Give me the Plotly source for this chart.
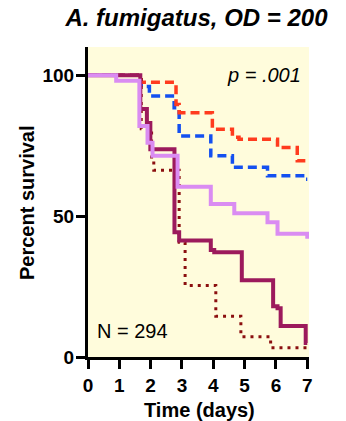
import plotly.graph_objects as go

# Kaplan-Meier step data (days, percent survival)
red_t = [0, 1.70, 2.81, 2.91, 3.97, 4.61, 4.82, 6.05, 6.68, 7.0]
red_s = [100, 97.5, 89.6, 86.7, 80.8, 78.0, 77.3, 74.3, 69.6, 69.6]

blue_t = [0, 1.70, 1.96, 2.75, 2.91, 3.92, 4.61, 5.73, 6.95, 7.0]
blue_s = [100, 96.0, 92.6, 88.4, 78.4, 71.4, 67.3, 64.3, 63.1, 63.1]

maroon_t = [0, 1.67, 1.88, 1.99, 2.76, 2.91, 3.92, 4.03, 4.91, 5.91, 6.05, 6.15, 6.95, 7.0]
maroon_s = [100, 88.0, 83.0, 73.7, 44.3, 41.3, 38.0, 37.2, 27.2, 18.0, 17.3, 11.0, 5.0, 5.0]

violet_t = [0, 0.90, 1.64, 1.90, 2.06, 2.86, 3.92, 4.67, 5.73, 6.05, 7.0]
violet_s = [100, 98.0, 82.0, 76.0, 71.4, 60.4, 54.3, 51.0, 47.8, 43.7, 42.0]

dot_t = [0, 1.70, 2.03, 2.10, 2.91, 3.10, 4.08, 4.88, 5.83, 7.0]
dot_s = [100, 81.0, 70.0, 66.3, 40.7, 25.4, 14.5, 7.2, 3.3, 3.3]

x_ticks = [0, 1, 2, 3, 4, 5, 6, 7]
y_ticks = [0, 50, 100]

FONT = "Liberation Sans, Arial, sans-serif"

fig = go.Figure()
fig.add_trace(go.Scatter(x=blue_t, y=blue_s, mode="lines", line_shape="hv",
                         line=dict(color="#1450F0", width=3.5, dash="9px,5px")))
fig.add_trace(go.Scatter(x=red_t, y=red_s, mode="lines", line_shape="hv",
                         line=dict(color="#FF3B1E", width=3.5, dash="9px,5px")))
fig.add_trace(go.Scatter(x=dot_t, y=dot_s, mode="lines", line_shape="hv",
                         line=dict(color="#8B0F0F", width=3, dash="3px,5px")))
fig.add_trace(go.Scatter(x=maroon_t, y=maroon_s, mode="lines", line_shape="hv",
                         line=dict(color="#9C1A5C", width=4)))
fig.add_trace(go.Scatter(x=violet_t, y=violet_s, mode="lines", line_shape="hv",
                         line=dict(color="#DA8CF2", width=4)))

fig.update_layout(
    width=346, height=421,
    margin=dict(l=88, r=37, t=47, b=64, autoexpand=False),
    paper_bgcolor="white",
    plot_bgcolor="#FFFCDC",
    showlegend=False,
    font=dict(family=FONT, color="black"),
    title=dict(text="<b><i>A. fumigatus, OD = 200</i></b>",
               x=196.5 / 346, xanchor="center", y=1 - 18 / 421, yanchor="middle",
               xref="container", yref="container",
               font=dict(size=24, family=FONT, color="black")),
    xaxis=dict(range=[0, 7.055], tickvals=x_ticks, ticktext=[f"<b>{v}</b>" for v in x_ticks],
               showgrid=False, zeroline=False, showline=True, linecolor="black", linewidth=3,
               ticks="outside", ticklen=9, tickwidth=3, tickcolor="black", automargin=False,
               tickfont=dict(size=19, family=FONT)),
    yaxis=dict(range=[0, 110], tickvals=y_ticks, ticktext=[f"<b>{v}</b>" for v in y_ticks],
               showgrid=False, zeroline=False, showline=True, linecolor="black", linewidth=3,
               ticks="outside", ticklen=9, tickwidth=3, tickcolor="black", automargin=False,
               ticklabelstandoff=-2,
               tickfont=dict(size=19, family=FONT)),
    annotations=[
        dict(x=6.86, y=100, xref="x", yref="y", text="<i>p = .001</i>", showarrow=False,
             xanchor="right", yanchor="middle", font=dict(size=20, family=FONT)),
        dict(x=0.21, y=9.1, xref="x", yref="y", text="N = 294", showarrow=False,
             xanchor="left", yanchor="middle", font=dict(size=20, family=FONT)),
        dict(x=(199 - 88) / 221, y=(357 - 410) / 310, xref="paper", yref="paper",
             text="<b>Time (days)</b>", showarrow=False, xanchor="center", yanchor="middle",
             font=dict(size=20, family=FONT)),
        dict(x=(27 - 88) / 221, y=0.5, xref="paper", yref="paper",
             text="<b>Percent survival</b>", showarrow=False, xanchor="center", yanchor="middle",
             textangle=-90, font=dict(size=20, family=FONT)),
    ],
)

fig.write_html("out.html")
